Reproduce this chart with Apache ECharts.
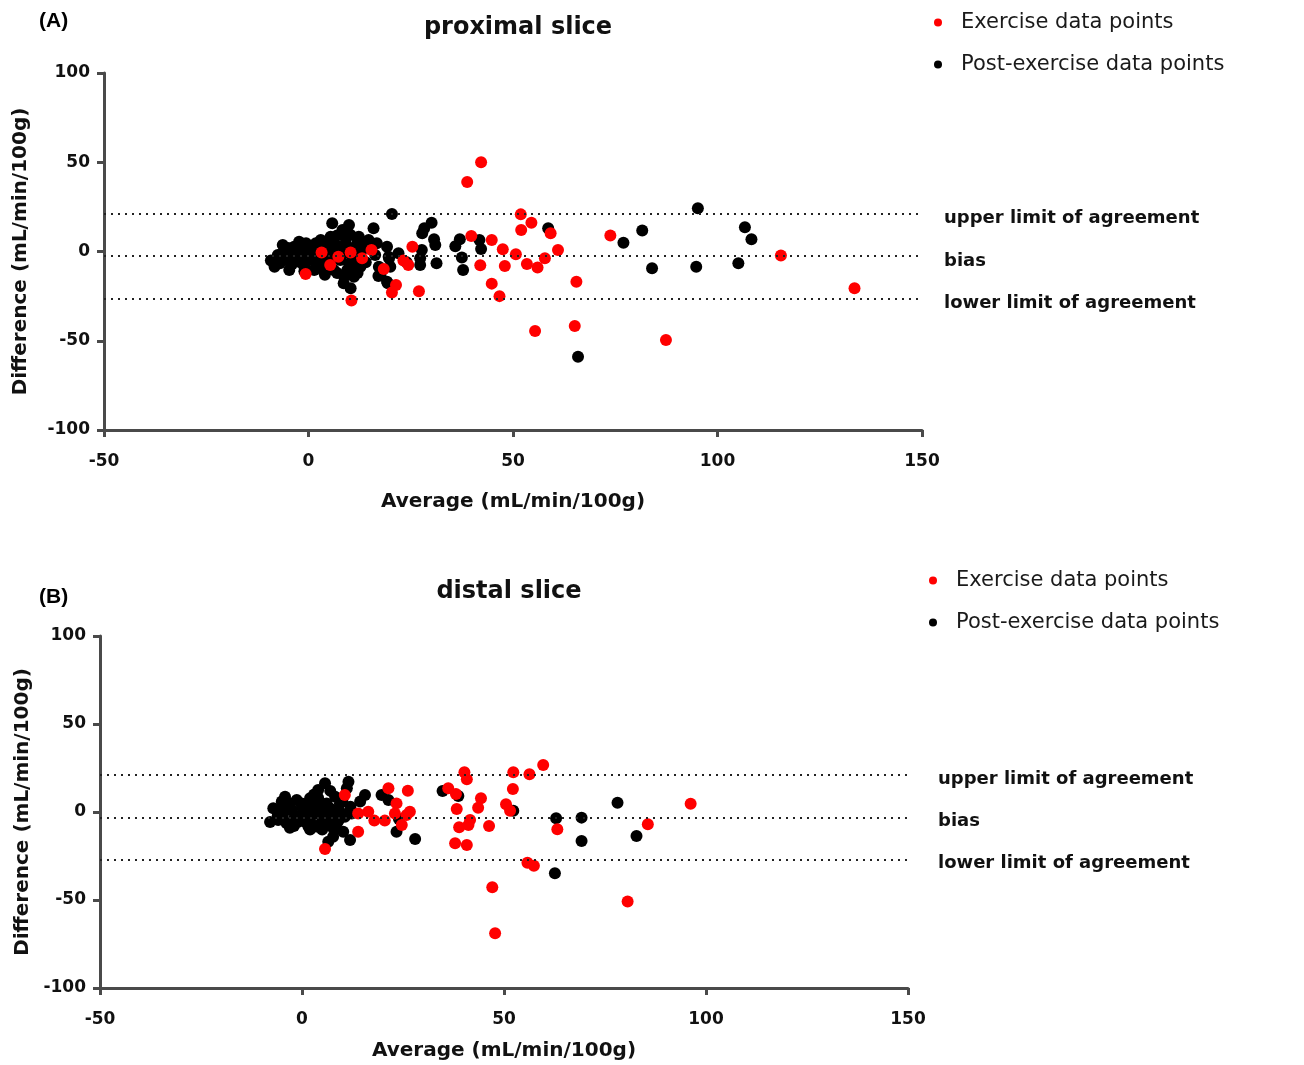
<!DOCTYPE html>
<html>
<head>
<meta charset="utf-8">
<script src="https://cdn.jsdelivr.net/npm/echarts@6/dist/echarts.min.js"></script>
<style>
  html, body { margin: 0; padding: 0; background: #fff; }
  #chart { width: 1304px; height: 1065px; }
</style>
</head>
<body>
<div id="chart"></div>
<script>
// proximal slice (A): [average, difference]
const proximalExercise = [
  [42.2, 50], [38.8, 39], [39.8, 8.7], [44.8, 6.4], [42, -7.7], [44.8, -18], [46.7, -25],
  [25.4, 2.7], [23.2, -5], [24.4, -7.6], [21.4, -18.8], [20.4, -23], [27, -22.3], [18.4, -9.8],
  [15.4, 0.8], [13.1, -3.8], [10.3, -0.5], [7.3, -2.9], [5.3, -7.6], [3.2, -0.5], [-0.7, -12.6],
  [10.5, -27.5], [51.9, 20.8], [54.5, 16.1], [52, 12], [59.2, 10.2], [47.5, 1.2], [50.7, -1.6],
  [61, 0.8], [57.8, -3.8], [53.4, -7], [56, -9], [48, -8.1], [65.5, -17], [55.4, -44.5],
  [65.1, -41.7], [87.4, -49.6], [73.8, 8.9], [115.5, -2.3], [133.5, -20.6]
];
const proximalPost = [
  [-8.3, -8.5], [-7.5, -2], [-6.3, 3.6], [-5.5, -4.8], [-4.7, -10.4], [-3.5, 2.7], [-3.1, -4.8],
  [-2.3, 5.5], [-1.5, -1], [-1, -8.5], [0.2, 2.7], [0.6, -4.8], [1.4, -10.4], [1.8, 4.6], [3, 6.4],
  [3.4, -4.8], [3.8, -11.3], [4.6, 1.8], [5.4, 8.3], [5.8, 15.8], [6.2, -10.4], [7.4, 2.7],
  [7.8, -4.8], [8.3, 12], [8.7, -14.1], [9.1, 4.6], [9.5, -10.4], [9.9, 14.8], [10.3, 9.2],
  [10.7, -4.8], [11.1, -14.1], [11.5, 2.7], [12.3, 8.3], [12.7, -8.5], [10.3, -20.6], [8.6, -17.8],
  [14.7, 6.4], [15.9, 13], [16.3, -2], [16.7, 4.6], [17.2, -8.5], [17.6, -13.2], [19.2, 2.7],
  [19.6, -2.9], [20, -8.5], [19.2, -16.9], [20.4, 21], [-7, -6.6], [-3.9, -1], [-0.6, 4.6],
  [1, -1], [2.2, -6.6], [4.2, 4.6], [5, -6.6], [6.6, -1], [8.7, -1], [9.9, 0.8], [11.9, -2.9],
  [13.1, 0.8], [-9.2, -5], [-6, -1.5], [-2, -6], [2.5, -3], [6, 5], [12, -12],
  [-6, 0], [-4, -7], [-2, 1], [0, -3], [2, 1], [4, -2], [6, -4], [8, 2], [10, -7], [12, 5],
  [-5, 2], [-1, -11], [3, -9], [7, -12], [11, -9], [14, -6], [13, 3], [9, 8], [7, 9], [4, -13],
  [30.1, 16.1], [28.3, 13], [27.8, 10.2], [30.7, 6.8], [31, 3.6], [31.3, -6.6], [27.7, 0.8],
  [27.3, -3.8], [27.3, -7.6], [37, 6.8], [35.9, 3], [41.8, 6.4], [42.2, 1.4], [37.5, -3.3],
  [37.8, -10.4], [58.6, 13], [77, 4.9], [81.6, 11.7], [84, -9.4], [94.8, -8.5], [95.2, 24.2],
  [106.7, 13.6], [108.3, 6.8], [105.1, -6.6], [65.9, -59], [19.7, -3.8], [17.1, -13.7],
  [19.4, -17.8], [22, -1], [24, -6]
];
const proximalLimits = [21.2, -2.5, -26.5];

// distal slice (B)
const distalExercise = [
  [36.2, 13.5], [38.1, 10.2], [40.2, 22.6], [40.8, 18.6], [38.3, 1.7], [44.3, 7.8], [43.6, 2.4],
  [41.6, -4.5], [38.9, -8.7], [41.2, -7.4], [46.3, -8], [37.9, -17.8], [40.8, -18.8], [52.3, 22.6],
  [56.3, 21.4], [59.7, 26.7], [52.2, 13.1], [50.5, 4.4], [51.5, 0.7], [55.8, -28.8], [57.4, -30.5],
  [47.1, -42.8], [47.8, -68.9], [63.2, -9.8], [80.6, -50.8], [85.6, -7], [96.2, 4.7],
  [10.6, 9.7], [13.9, -0.8], [16.4, 0.2], [17.9, -4.9], [20.5, -4.9], [21.4, 13.5], [26.2, 12.1],
  [23.4, 4.9], [23, -0.8], [26.7, 0.2], [25.9, -1.7], [24.7, -7.4], [13.9, -11.2], [5.7, -21]
];
const distalPost = [
  [-7.1, 2.1], [-5.9, -4.5], [-4.2, 8.7], [-3.8, -6.4], [-2.5, 1.1], [-1.3, 6.8], [-0.9, -5.5],
  [0.7, 1.1], [1.6, -8.3], [2, 7.8], [3.2, -0.8], [4, 12.5], [4.9, -5.5], [5.7, 16.3], [6.1, 4.9],
  [6.9, -2.7], [8.2, 8.7], [8.6, -6.4], [9, 1.1], [10.6, -2.7], [11.5, 17.2], [11.1, 13.5],
  [7.7, -14], [6.5, -16.9], [10.2, -11.2], [11.9, -15.9], [15.6, 9.7], [14.4, 5.9], [19.7, 9.7],
  [21.4, 6.8], [23.4, -11.2], [28, -15.3], [-4.7, -1.6], [-3, 4.9], [-0.1, 4.9], [2.4, 3],
  [4.5, 1.1], [-1.7, -2.7], [1.2, -3.6], [3.6, -8.3], [7.3, -8.3], [9.4, 4.9], [12.3, -0.8],
  [-7.9, -5.7], [-6, 1], [0, -1], [2, -5], [5, 3], [8, -3], [3, 10], [-2, -8], [24, -4],
  [-6, -2], [-4, 3], [-2, -4], [0, 3], [1, -6], [3, 5], [5, -1], [6, -7], [7, 2], [9, -5],
  [10, 6], [11, -1], [-3, -9], [2, -10], [5, -10], [8, -10], [4, 8], [7, 12], [-5, 6], [12, 3],
  [34.8, 11.9], [38.7, 9.1], [52.3, 0.7], [62.9, -3.6], [69.2, -3.2], [69.2, -16.5],
  [78.1, 5.3], [82.8, -13.6], [62.6, -34.8]
];
const distalLimits = [21, -3.2, -27];

const limitLabels = ['upper limit of agreement', 'bias', 'lower limit of agreement'];
const seriesNames = ['Exercise data points', 'Post-exercise data points'];

const FONT = 'DejaVu Sans';
const axisColor = '#4a4a4a';

function xAxisFor(gridIndex, nameGap) {
  return {
    gridIndex, type: 'value', min: -50, max: 150, interval: 50,
    name: 'Average (mL/min/100g)', nameLocation: 'middle', nameGap,
    nameTextStyle: { fontFamily: FONT, fontWeight: 'bold', fontSize: 20, color: '#111' },
    axisLine: { onZero: false, lineStyle: { color: axisColor, width: 3 } },
    axisTick: { length: 7, lineStyle: { color: axisColor, width: 3 } },
    axisLabel: { margin: 23, fontFamily: FONT, fontWeight: 'bold', fontSize: 17, color: '#111' },
    splitLine: { show: false }
  };
}

function yAxisFor(gridIndex, nameGap) {
  return {
    gridIndex, type: 'value', min: -100, max: 100, interval: 50,
    name: 'Difference (mL/min/100g)', nameLocation: 'middle', nameGap, nameRotate: 90,
    nameTextStyle: { fontFamily: FONT, fontWeight: 'bold', fontSize: 20, color: '#111' },
    axisLine: { onZero: false, lineStyle: { color: axisColor, width: 3 } },
    axisTick: { length: 7, lineStyle: { color: axisColor, width: 3 } },
    axisLabel: { margin: 14, fontFamily: FONT, fontWeight: 'bold', fontSize: 17, color: '#111' },
    splitLine: { show: false }
  };
}

function limitLines(values, labelDistance, dy) {
  return {
    silent: true,
    symbol: 'none',
    lineStyle: { type: [2, 5], color: '#222', width: 2, opacity: 1 },
    label: {
      position: 'end', distance: labelDistance, offset: [0, dy],
      formatter: p => p.name,
      fontFamily: FONT, fontWeight: 'bold', fontSize: 18, color: '#111'
    },
    data: values.map((v, i) => ({ name: limitLabels[i], yAxis: v }))
  };
}

function scatter(name, data, idx, color, markLine) {
  const s = {
    name, type: 'scatter', data, xAxisIndex: idx, yAxisIndex: idx,
    symbolSize: 12, itemStyle: { color, opacity: 1 }
  };
  if (markLine) s.markLine = markLine;
  return s;
}

function legendAt(left, top) {
  return {
    data: seriesNames, orient: 'vertical', left, top, itemGap: 21,
    icon: 'circle', itemWidth: 36, itemHeight: 8,
    textStyle: { fontFamily: FONT, fontSize: 21, color: '#1a1a1a' }
  };
}

const chart = echarts.init(document.getElementById('chart'));
chart.setOption({
  animation: false,
  backgroundColor: '#fff',
  color: ['#ff0000', '#000000'],
  title: [
    { text: '(A)', left: 34, top: 6, textStyle: { fontFamily: 'Liberation Sans', fontWeight: 'bold', fontSize: 21, color: '#000' } },
    { text: 'proximal slice', left: 513, top: 11, textAlign: 'center', textStyle: { fontFamily: FONT, fontWeight: 'bold', fontSize: 24, color: '#111' } },
    { text: '(B)', left: 34, top: 582, textStyle: { fontFamily: 'Liberation Sans', fontWeight: 'bold', fontSize: 21, color: '#000' } },
    { text: 'distal slice', left: 504, top: 575, textAlign: 'center', textStyle: { fontFamily: FONT, fontWeight: 'bold', fontSize: 24, color: '#111' } }
  ],
  legend: [legendAt(929, 7), legendAt(924, 565)],
  grid: [
    { left: 104, top: 73, width: 818, height: 357 },
    { left: 100, top: 636, width: 808, height: 352 }
  ],
  xAxis: [xAxisFor(0, 62), xAxisFor(1, 53)],
  yAxis: [yAxisFor(0, 73), yAxisFor(1, 65)],
  series: [
    scatter(seriesNames[1], proximalPost, 0, '#000000', limitLines(proximalLimits, 22, 5)),
    scatter(seriesNames[0], proximalExercise, 0, '#ff0000'),
    scatter(seriesNames[1], distalPost, 1, '#000000', limitLines(distalLimits, 30, 4)),
    scatter(seriesNames[0], distalExercise, 1, '#ff0000')
  ]
});
</script>
</body>
</html>
